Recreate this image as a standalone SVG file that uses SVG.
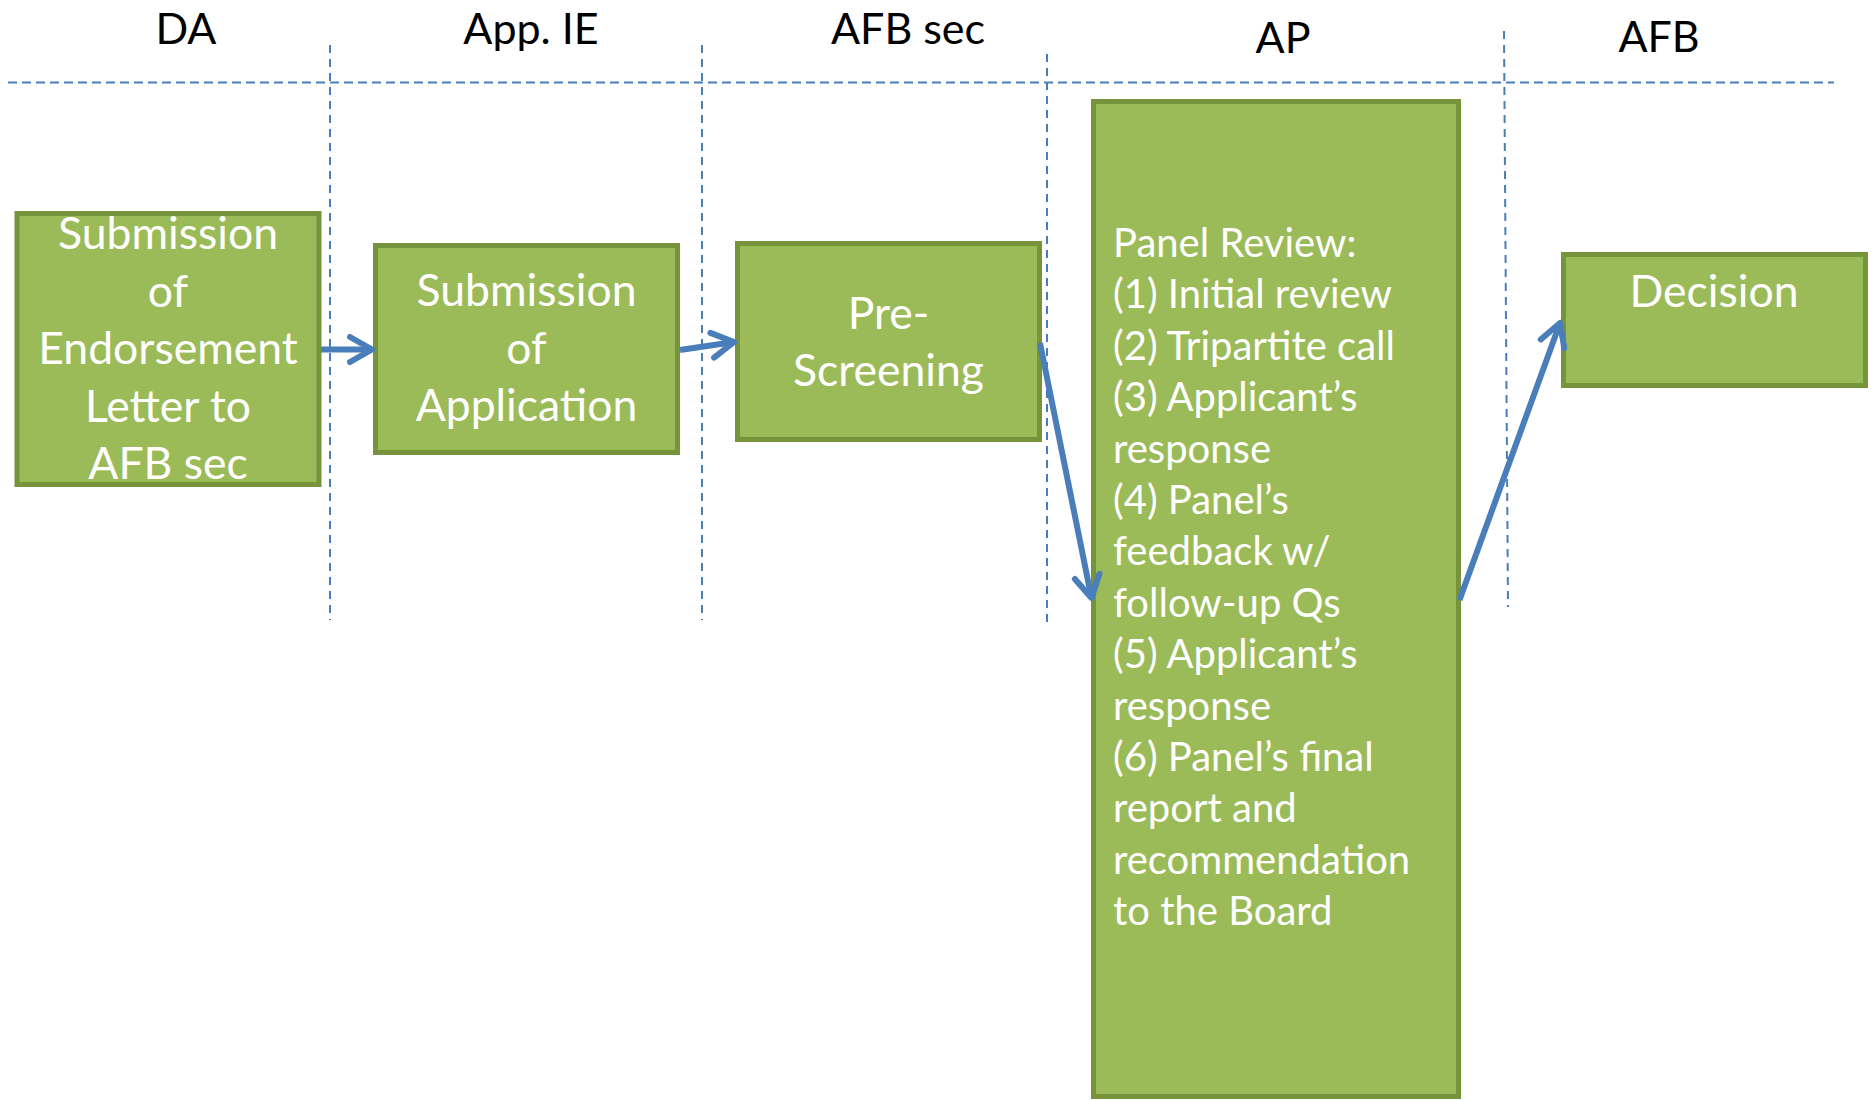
<svg xmlns="http://www.w3.org/2000/svg" width="1873" height="1100" viewBox="0 0 1873 1100">
  <style>
    .lane { fill: none; stroke: #4A7EBB; stroke-width: 2; stroke-dasharray: 9 5; }
    .lane-v { fill: none; stroke: #4A7EBB; stroke-width: 2; stroke-dasharray: 8 6; }
    .head { font-family: Lato, "Liberation Sans", sans-serif; font-size: 43px; fill: #000; text-anchor: middle; }
    .box { fill: #9BBB59; stroke: #77933C; stroke-width: 5; }
    .label { font-family: Lato, "Liberation Sans", sans-serif; font-size: 44.5px; fill: #FFFFFF; text-anchor: middle; }
    .list { font-family: Lato, "Liberation Sans", sans-serif; font-size: 40px; fill: #FFFFFF; }
    .flow { fill: none; stroke: #4A7EBB; stroke-width: 6; stroke-linecap: butt; marker-end: url(#open-arrow); }
  </style>
  <defs>
    <marker id="open-arrow" markerUnits="userSpaceOnUse" orient="auto" refX="0" refY="0" markerWidth="40" markerHeight="40" overflow="visible">
      <path d="M-22,-12.5 L0,0 L-22,12.5" fill="none" stroke="#4A7EBB" stroke-width="6" stroke-linecap="round" stroke-linejoin="round"/>
    </marker>
  </defs>

  <rect width="1873" height="1100" fill="#FFFFFF"/>

  <!-- swimlane headers and dividers -->
  <g id="lanes">
    <line class="lane" x1="8" y1="82.5" x2="1834" y2="82.5"/>
    <line class="lane-v" x1="330" y1="45" x2="330" y2="620"/>
    <line class="lane-v" x1="702" y1="45" x2="702" y2="620"/>
    <line class="lane-v" x1="1047" y1="54" x2="1047" y2="628"/>
    <line class="lane-v" x1="1504" y1="31" x2="1508" y2="607"/>
    <text class="head" x="186" y="43.5">DA</text>
    <text class="head" x="531" y="43.5">App. IE</text>
    <text class="head" x="908" y="43.5">AFB sec</text>
    <text class="head" x="1283" y="53">AP</text>
    <text class="head" x="1659" y="52">AFB</text>
  </g>

  <!-- process steps -->
  <g id="endorsement">
    <rect class="box" x="17" y="213.5" width="302" height="271"/>
    <text class="label" x="168" y="249">Submission</text>
    <text class="label" x="168" y="306.5">of</text>
    <text class="label" x="168" y="364">Endorsement</text>
    <text class="label" x="168" y="421.5">Letter to</text>
    <text class="label" x="168" y="479">AFB sec</text>
  </g>

  <g id="application">
    <rect class="box" x="375.5" y="245.5" width="302" height="207"/>
    <text class="label" x="526.5" y="306">Submission</text>
    <text class="label" x="526.5" y="363.5">of</text>
    <text class="label" x="526.5" y="421">Application</text>
  </g>

  <g id="prescreening">
    <rect class="box" x="737.5" y="243.5" width="302" height="196"/>
    <text class="label" x="888.5" y="328.5">Pre-</text>
    <text class="label" x="888.5" y="386">Screening</text>
  </g>

  <g id="panel-review">
    <rect class="box" x="1093.5" y="101.5" width="365" height="995"/>
    <text class="list" x="1113" y="257">Panel Review:</text>
    <text class="list" x="1113" y="308.4">(1) Initial review</text>
    <text class="list" x="1113" y="359.8">(2) Tripartite call</text>
    <text class="list" x="1113" y="411.2">(3) Applicant’s</text>
    <text class="list" x="1113" y="462.6">response</text>
    <text class="list" x="1113" y="514">(4) Panel’s</text>
    <text class="list" x="1113" y="565.4">feedback w/</text>
    <text class="list" x="1113" y="616.8">follow-up Qs</text>
    <text class="list" x="1113" y="668.2">(5) Applicant’s</text>
    <text class="list" x="1113" y="719.6">response</text>
    <text class="list" x="1113" y="771">(6) Panel’s final</text>
    <text class="list" x="1113" y="822.4">report and</text>
    <text class="list" x="1113" y="873.8">recommendation</text>
    <text class="list" x="1113" y="925.2">to the Board</text>
  </g>

  <g id="decision">
    <rect class="box" x="1563.5" y="254.5" width="302" height="131"/>
    <text class="label" x="1714" y="307">Decision</text>
  </g>

  <!-- flow connectors -->
  <g id="connectors">
    <line class="flow" x1="321" y1="349.5" x2="372" y2="349.5"/>
    <line class="flow" x1="680" y1="350" x2="734" y2="342"/>
    <line class="flow" x1="1040" y1="343" x2="1091.5" y2="598"/>
    <line class="flow" x1="1459.5" y1="600" x2="1560" y2="323"/>
  </g>
</svg>
